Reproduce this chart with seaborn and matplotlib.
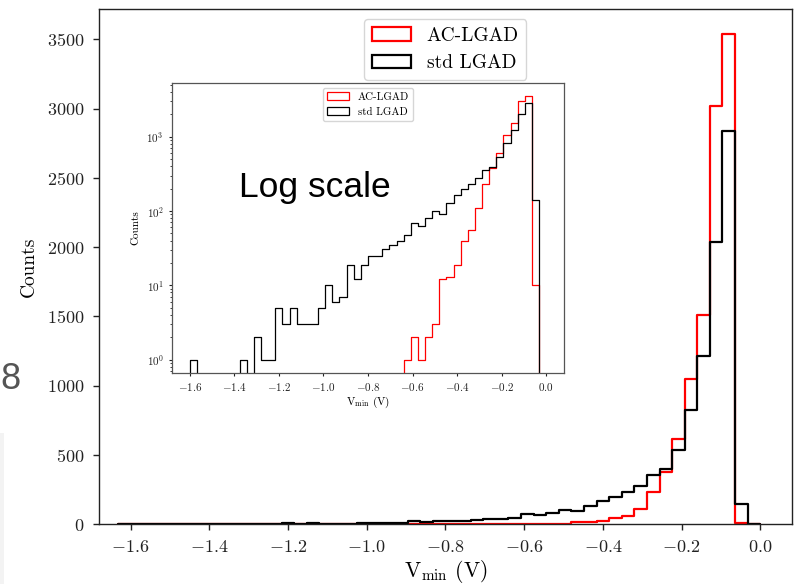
import numpy as np
import pandas as pd
import matplotlib
matplotlib.use("Agg")
import matplotlib.pyplot as plt
import seaborn as sns
from matplotlib.patches import Patch, Rectangle

# ---------------- data ----------------
bin_lo = -1.6
bin_hi = 0.0
n_bins = 50

ac_lgad_counts = [
    0, 0, 0, 0, 0, 0, 0, 0, 0, 0,
    0, 0, 0, 0, 0, 0, 0, 0, 0, 0,
    0, 0, 0, 0, 0, 0, 0, 0, 0, 0,
    1, 2, 1, 2, 3, 12, 13, 19, 40, 55,
    110, 228, 378, 612, 1050, 1510, 3020, 3540, 10, 0,
]
std_lgad_counts = [
    1, 0, 0, 0, 0, 0, 0, 1, 0, 2,
    1, 1, 5, 3, 5, 3, 3, 3, 5, 10,
    6, 7, 19, 12, 19, 25, 25, 31, 35, 39,
    47, 69, 63, 81, 100, 92, 128, 163, 198, 232,
    277, 357, 396, 535, 820, 1215, 2040, 2840, 142, 0,
]
series_labels = ["AC-LGAD", "std LGAD"]
series_colors = ["red", "black"]

main_xticks = [-1.6, -1.4, -1.2, -1.0, -0.8, -0.6, -0.4, -0.2, 0.0]
main_yticks = [0, 500, 1000, 1500, 2000, 2500, 3000, 3500]
inset_xticks = [-1.6, -1.4, -1.2, -1.0, -0.8, -0.6, -0.4, -0.2, 0.0]
x_label = r"$\mathrm{V_{min}}$ (V)"
y_label = "Counts"
annotation = "Log scale"

# ---------------- style ----------------
sns.set_style("ticks")
plt.rcParams.update({
    "font.family": ["cmr10", "DejaVu Serif"],
    "mathtext.fontset": "cm",
    "axes.formatter.use_mathtext": True,
    "axes.unicode_minus": True,
    "axes.edgecolor": "#222222",
    "axes.linewidth": 1.0,
    "xtick.color": "#222222",
    "ytick.color": "#222222",
    "text.color": "black",
    "axes.labelcolor": "black",
    "xtick.direction": "out",
    "ytick.direction": "out",
})

# histogram table (a leading empty bin so the outline rises from the baseline)
edges = np.linspace(bin_lo, bin_hi, n_bins + 1)
width = edges[1] - edges[0]
edges_p = [float(e) for e in np.concatenate([[edges[0] - width], edges])]
centers_p = 0.5 * (np.array(edges_p[:-1]) + np.array(edges_p[1:]))
frames = []
for lab, cnt in zip(series_labels, [ac_lgad_counts, std_lgad_counts]):
    frames.append(pd.DataFrame({
        "V": centers_p,
        "count": np.concatenate([[0], np.asarray(cnt, dtype=float)]),
        "series": lab,
    }))
df = pd.concat(frames, ignore_index=True)

fig = plt.figure(figsize=(8.0, 5.84), dpi=100)
ax = fig.add_axes([0.1238, 0.1027, 0.8659, 0.8813])

for lab, col in zip(series_labels, series_colors):
    sns.histplot(data=df[df["series"] == lab], x="V", weights="count",
                 bins=edges_p, element="step", fill=False, color=col,
                 linewidth=1.6, ax=ax)

span = bin_hi - bin_lo
ax.set_xlim(bin_lo - 0.05 * span, bin_hi + 0.05 * span)
ax.set_ylim(0, max(ac_lgad_counts) * 1.05)
ax.set_xticks(main_xticks)
ax.set_yticks(main_yticks)
ax.tick_params(labelsize=13, length=4.3, width=1.0)
ax.tick_params(axis="x", pad=6.5)
ax.tick_params(axis="y", pad=6.0)
ax.set_xlabel(x_label, fontsize=15.5, labelpad=2)
ax.set_ylabel(y_label, fontsize=14, labelpad=7)
handles = [Patch(facecolor="none", edgecolor=c, linewidth=1.6) for c in series_colors]
ax.legend(handles, series_labels, loc="upper center", fontsize=14,
          frameon=True, fancybox=True, edgecolor="0.8", framealpha=0.8)

# ---------------- inset (log scale) ----------------
axin = fig.add_axes([0.215, 0.3618, 0.49, 0.4966])
axin.set_facecolor("white")
axin.set_yscale("log")
for lab, col in zip(series_labels, series_colors):
    sns.histplot(data=df[df["series"] == lab], x="V", weights="count",
                 bins=edges_p, element="step", fill=False, color=col,
                 linewidth=0.9, ax=axin)
axin.set_xlim(bin_lo - 0.05 * span, bin_hi + 0.05 * span)
lo = np.log10(1.0)
hi = np.log10(max(ac_lgad_counts))
axin.set_ylim(10 ** (lo - 0.05 * (hi - lo)), 10 ** (hi + 0.05 * (hi - lo)))
axin.set_xticks(inset_xticks)
axin.tick_params(labelsize=8, length=2.5, width=0.8)
axin.tick_params(which="minor", length=1.5, width=0.6)
axin.set_xlabel(x_label, fontsize=8, labelpad=1)
axin.set_ylabel(y_label, fontsize=8, labelpad=4)
for s in axin.spines.values():
    s.set_linewidth(0.9)
    s.set_edgecolor("#555555")
h2 = [Patch(facecolor="none", edgecolor=c, linewidth=0.9) for c in series_colors]
axin.legend(h2, series_labels, loc="upper center", fontsize=7.8,
            frameon=True, fancybox=True, edgecolor="0.8", framealpha=0.8)

# ---------------- overlay texts ----------------
fig.text(239 / 800, 1 - 197 / 584, annotation, fontsize=25.5,
         family="Liberation Sans", ha="left", va="baseline", color="black")
fig.text(0.0, 1 - 389 / 584, "8", fontsize=26, family="Liberation Sans",
         ha="left", va="baseline", color="#555555")
fig.patches.append(Rectangle((0, 0), 4 / 800, 151 / 584, transform=fig.transFigure,
                             facecolor="#f3f3f3", edgecolor="none", zorder=-1))

fig.savefig("out.png", dpi=100)
